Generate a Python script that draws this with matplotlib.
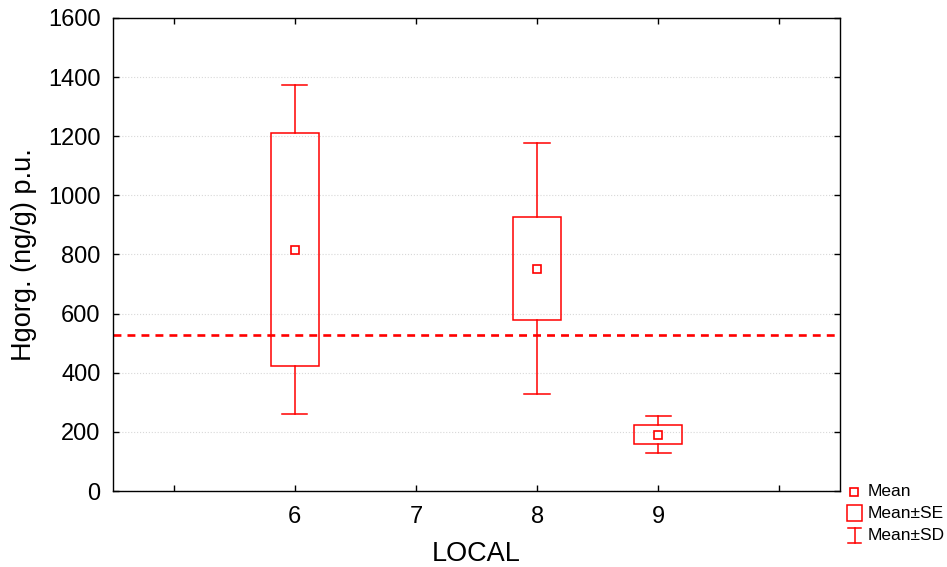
import matplotlib.pyplot as plt
from matplotlib.patches import Rectangle
from matplotlib.lines import Line2D

# Hg organic concentration by site: mean, standard error, standard deviation
categories = ["6", "7", "8", "9"]
sites = ["6", "8", "9"]
means = [816, 752, 191]
se = [394, 175, 32]
sd = [557, 425, 63]
reference_level = 528

RED = "#ff0000"
plt.rcParams["font.family"] = ["Liberation Sans", "DejaVu Sans"]

fig = plt.figure(figsize=(9.47, 5.67), dpi=100)
ax = fig.add_axes([113 / 947, 1 - 491 / 567, 727 / 947, 473 / 567])

box_w = 0.4
cap_w = 0.21
for site, m, s_e, s_d in zip(sites, means, se, sd):
    x = categories.index(site) + 1
    # whiskers (mean +- SD) with caps
    ax.plot([x, x], [m + s_e, m + s_d], color=RED, lw=1.1)
    ax.plot([x, x], [m - s_d, m - s_e], color=RED, lw=1.1)
    ax.plot([x - cap_w / 2, x + cap_w / 2], [m + s_d] * 2, color=RED, lw=1.1)
    ax.plot([x - cap_w / 2, x + cap_w / 2], [m - s_d] * 2, color=RED, lw=1.1)
    # box (mean +- SE)
    ax.add_patch(Rectangle((x - box_w / 2, m - s_e), box_w, 2 * s_e,
                           fill=False, edgecolor=RED, lw=1.1, zorder=3))
    # mean marker
    ax.plot(x, m, marker="s", ms=6.3, mfc="white", mec=RED, mew=1.2, zorder=4)

ax.axhline(reference_level, color=RED, lw=1.9, dashes=(3.0, 2.3), zorder=2)

ax.set_xlim(-0.5, 5.5)
ax.set_ylim(0, 1600)
ax.set_xticks(range(len(categories) + 2))
ax.set_xticklabels([""] + categories + [""])
ax.set_yticks(range(0, 1601, 200))
ax.yaxis.grid(True, linestyle=":", color="#d8d8d8", lw=0.8)
ax.set_axisbelow(True)

ax.tick_params(direction="in", top=True, right=True, length=4, width=1,
               labelsize=17, colors="black")
ax.tick_params(axis="x", pad=11)
ax.tick_params(axis="y", pad=9)
for sp in ax.spines.values():
    sp.set_linewidth(1.0)
    sp.set_color("black")

ax.set_xlabel("LOCAL", fontsize=19.5, labelpad=9)
ax.set_ylabel("Hgorg. (ng/g) p.u.", fontsize=19.5, labelpad=8)

# legend drawn in pixel coordinates to the right of the plot
leg = fig.add_axes([835 / 947, 1 - 550 / 567, 112 / 947, 70 / 567])
leg.set_xlim(835, 947)
leg.set_ylim(550, 480)
leg.axis("off")
leg.plot(854, 492, marker="s", ms=5.5, mfc="white", mec=RED, mew=1.2)
leg.add_patch(Rectangle((847, 505), 15, 16, fill=False, edgecolor=RED, lw=1.1))
leg.add_line(Line2D([854.5, 854.5], [528, 543], color=RED, lw=1.1))
leg.add_line(Line2D([848, 861], [528, 528], color=RED, lw=1.1))
leg.add_line(Line2D([848, 861], [543, 543], color=RED, lw=1.1))
for ty, label in zip([492, 513, 536], ["Mean", "Mean±SE", "Mean±SD"]):
    leg.text(868, ty, label, fontsize=12.5, va="center", ha="left")

fig.savefig("out.png", dpi=100)
